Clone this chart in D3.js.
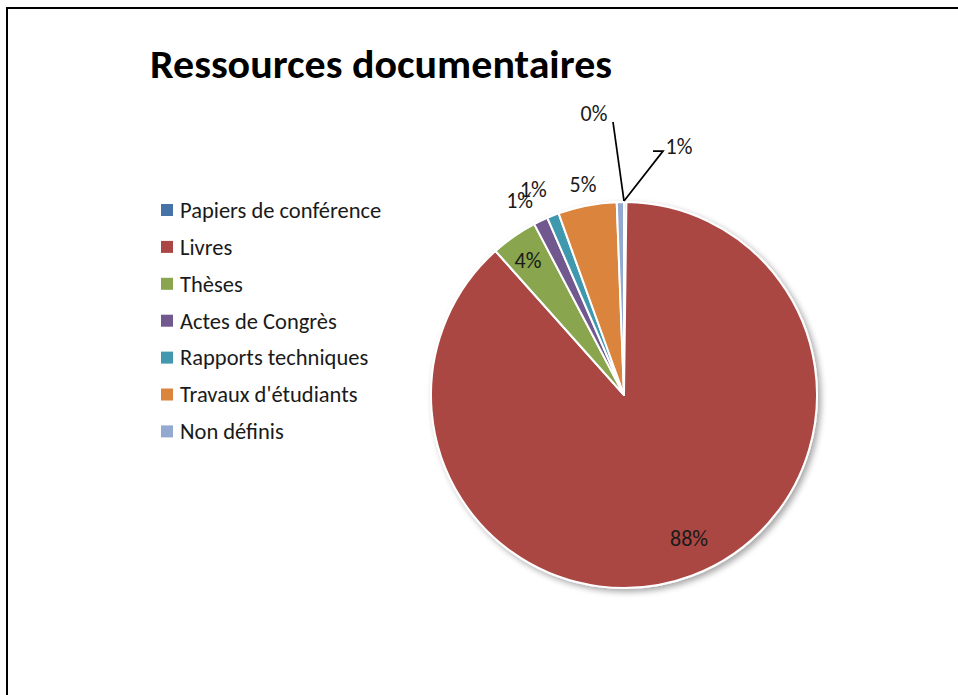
<!DOCTYPE html>
<html>
<head>
<meta charset="utf-8">
<script src="https://cdn.jsdelivr.net/npm/d3@7"></script>
<style>
    html, body { margin: 0; padding: 0; background: #fff; }
    svg { display: block; font-family: Carlito, Calibri, Lato, sans-serif; }
</style>
</head>
<body>
<svg id="chart" width="958" height="695"></svg>
<script>
// data (percent of documents)
const categories = ["Papiers de conférence", "Livres", "Thèses", "Actes de Congrès",
    "Rapports techniques", "Travaux d'étudiants", "Non définis"];
const values = [0.2, 88.2, 3.9, 1.2, 1.0, 4.9, 0.6];
const colors = ["#4572A7", "#AA4643", "#89A54E", "#71588F", "#4198AF", "#DB843D", "#93A9CF"];
const title = "Ressources documentaires";

// where each percent label goes (layout only)
const labelLayout = [
    { mode: "leader", anchor: "start", text: [-30, -88], path: [[-11, -79]] },
    { mode: "radial", r: 157, dx: 10, dy: -4 },
    { mode: "radial", r: 165, dx: -2, dy: 1 },
    { mode: "radial", r: 221, dx: -9, dy: 4 },
    { mode: "radial", r: 225, dx: -8, dy: 3 },
    { mode: "radial", r: 215, dx: 0, dy: 0 },
    { mode: "leader", anchor: "end", text: [55, -55], path: [[39, -50], [29, -50]] }
];

const svg = d3.select("#chart");
const cx = 624, cy = 395, radius = 193;

// outer frame (runs off the right and bottom)
svg.append("path")
    .attr("d", "M7,700 V8 H970")
    .attr("fill", "none")
    .attr("stroke", "#000")
    .attr("stroke-width", 2);

svg.append("text")
    .attr("x", 150)
    .attr("y", 78)
    .attr("font-size", 41)
    .attr("font-weight", "bold")
    .attr("fill", "#000")
    .attr("textLength", 462)
    .attr("lengthAdjust", "spacingAndGlyphs")
    .text(title);

const defs = svg.append("defs");
const shadow = defs.append("filter").attr("id", "shadow")
    .attr("x", "-10%").attr("y", "-10%").attr("width", "130%").attr("height", "130%");
shadow.append("feGaussianBlur").attr("in", "SourceAlpha").attr("stdDeviation", 3);
shadow.append("feOffset").attr("dx", 3).attr("dy", 3).attr("result", "off");
shadow.append("feComponentTransfer").append("feFuncA").attr("type", "linear").attr("slope", 0.35);
const merge = shadow.append("feMerge");
merge.append("feMergeNode");
merge.append("feMergeNode").attr("in", "SourceGraphic");

const color = d3.scaleOrdinal().domain(categories).range(colors);

const pie = d3.pie().sort(null).value(d => d.value);
const arcs = pie(categories.map((c, i) => ({ name: c, value: values[i] })));
const arc = d3.arc().innerRadius(0).outerRadius(radius);
const total = d3.sum(values);

const g = svg.append("g").attr("transform", `translate(${cx},${cy})`);

g.append("g")
    .attr("filter", "url(#shadow)")
    .selectAll("path")
    .data(arcs)
    .join("path")
    .attr("d", arc)
    .attr("fill", d => color(d.data.name))
    .attr("stroke", "#fff")
    .attr("stroke-width", 2)
    .attr("stroke-linejoin", "round");

const pointAt = (angle, r) => [Math.sin(angle) * r, -Math.cos(angle) * r];

const labels = g.append("g");
arcs.forEach((a, i) => {
    const lay = labelLayout[i];
    const pct = Math.round(a.data.value / total * 100) + "%";
    let x, y;
    if (lay.mode === "radial") {
        const mid = (a.startAngle + a.endAngle) / 2;
        [x, y] = pointAt(mid, lay.r);
        x += lay.dx;
        y += lay.dy;
    } else {
        const ang = lay.anchor === "start" ? a.startAngle : a.endAngle;
        const [ax, ay] = pointAt(ang, radius + 1);
        x = ax + lay.text[0];
        y = ay + lay.text[1];
        const pts = [[ax, ay]].concat(lay.path.map(p => [ax + p[0], ay + p[1]]));
        labels.append("path")
            .attr("d", d3.line()(pts))
            .attr("fill", "none")
            .attr("stroke", "#000")
            .attr("stroke-width", 1.75);
    }
    labels.append("text")
        .attr("x", x)
        .attr("y", y)
        .attr("dy", "0.36em")
        .attr("text-anchor", "middle")
        .attr("font-size", 22)
        .attr("fill", "#1a1a1a")
        .text(pct);
});

// legend
const legend = svg.append("g").attr("transform", "translate(161,210)");
const item = legend.selectAll("g")
    .data(categories)
    .join("g")
    .attr("transform", (d, i) => `translate(0,${i * 36.9})`);

item.append("rect")
    .attr("x", 0)
    .attr("y", -6)
    .attr("width", 12)
    .attr("height", 12)
    .attr("fill", d => color(d));

item.append("text")
    .attr("x", 19)
    .attr("y", 0)
    .attr("dy", "0.35em")
    .attr("font-size", 22.5)
    .attr("fill", "#1a1a1a")
    .text(d => d);
</script>
</body>
</html>
